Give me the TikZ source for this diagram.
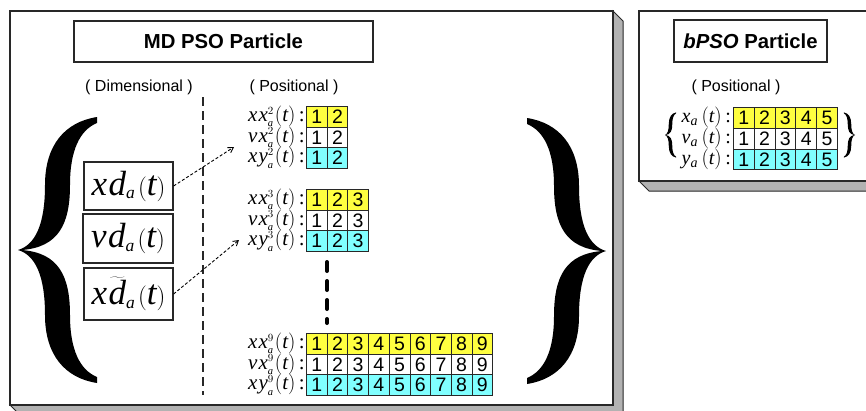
\documentclass[tikz,border=0pt]{standalone}
\usepackage{fontspec}
\setmainfont{Liberation Serif}
\setsansfont{Liberation Sans}
\usetikzlibrary{arrows.meta}
\definecolor{cyel}{RGB}{255,255,64}
\definecolor{ccya}{RGB}{128,255,255}
\definecolor{cgray}{RGB}{178,178,178}
\definecolor{cline}{RGB}{40,40,40}
\newcommand{\bracefill}{\fill (79,-133) .. controls (47,-128) and (27,-105) .. (27,-65) .. controls (27,-25) and (17,-5) .. (0,0) .. controls (17,5) and (27,25) .. (27,65) .. controls (27,105) and (47,128) .. (79,133) -- (79,127) .. controls (62,120) and (52,100) .. (52,65) .. controls (52,25) and (40,3) .. (4,0) .. controls (40,-3) and (52,-25) .. (52,-65) .. controls (52,-100) and (62,-120) .. (79,-127) -- cycle;}
\newcommand{\celltable}[5]{% name, x, y, n, w
  \foreach \r/\cc in {1/cyel,2/white,3/ccya}{
    \foreach \c in {1,...,#4}{
      \node[cellbox,fill=\cc,minimum width=#5pt,minimum height=#5pt] (#1-\r-\c) at ({#2+(\c-1)*#5},{#3+(\r-1)*#5}) {\c};
    }}}
% row label: letters, superscript
\newcommand{\mdlab}[2]{$\mathit{#1}^{\scriptscriptstyle #2}_{\scriptscriptstyle\mathit{a}}\mkern1mu(\mathit{t})\mkern3mu$:}
\newcommand{\blab}[1]{$\mathit{#1}_{\mathit{a}}\mkern3mu(\mathit{t})\mkern3mu$:}
\newcommand{\dimlab}[2]{$\mathit{#1}\mkern1mu\mathit{#2}_{\scriptscriptstyle\mathit{a}}\mkern2mu(\mathit{t})$}
\tikzset{
  cellbox/.style={draw=cline,line width=0.8pt,inner sep=0pt,anchor=north west,font=\sffamily\fontsize{19.5}{19.5}\selectfont},
  lab/.style={anchor=east,inner sep=0pt,font=\fontsize{21}{21}\selectfont},
  blabel/.style={anchor=east,inner sep=0pt,font=\fontsize{20}{20}\selectfont},
  titlebox/.style={draw=cline,line width=1.2pt,fill=white,inner sep=0pt,font=\sffamily\bfseries\fontsize{20.3}{21}\selectfont},
  dimbox/.style={draw=cline,line width=1.2pt,fill=white,inner sep=0pt,font=\fontsize{35}{35}\selectfont},
  heading/.style={inner sep=0pt,font=\sffamily\fontsize{16}{16}\selectfont},
  panel/.style={draw=cline,line width=1.2pt,fill=white},
  shade/.style={draw=cline,line width=1pt,fill=cgray},
  linkarrow/.style={line width=0.9pt,dash pattern=on 3pt off 2pt,-{Straight Barb[length=5pt,width=6pt]}},
}
\begin{document}
\begin{tikzpicture}[x=1pt,y=-1pt]
\useasboundingbox (0,0) rectangle (866,410);
\fill[white] (0,0) rectangle (866,410);
% main panel
\draw[shade] (613,11) -- (623,21) -- (623,415) -- (20,415) -- (10,405) -- (613,405) -- cycle;
\draw[panel] (10,11) rectangle (613,405);
% bPSO panel
\draw[shade] (639,181) -- (649,191) -- (880,191) -- (880,181) -- cycle;
\draw[panel] (639,11) rectangle (880,181);
% titles
\node[titlebox,minimum width=299pt,minimum height=41pt] (mdtitle) at (223.5,41.5) {MD PSO Particle};
\node[titlebox,minimum width=153pt,minimum height=42pt] (btitle) at (750.5,41) {\textit{bPSO} Particle};
\node[heading] (dimh) at (139,87) {( Dimensional )};
\node[heading] (posh) at (294,87) {( Positional )};
\node[heading] (bposh) at (736,87) {( Positional )};
% separator
\draw[line width=1.3pt,dash pattern=on 9pt off 5pt,draw=cline] (203,97) coordinate (sepa) -- (203,395) coordinate (sepb);
% braces
\begin{scope}[shift={(18,250)}] \bracefill \end{scope}
\begin{scope}[shift={(606,251)},xscale=-1] \bracefill \end{scope}
\begin{scope}[shift={(665,135)},xscale=0.14,yscale=0.17] \bracefill \end{scope}
\begin{scope}[shift={(855,135)},xscale=-0.14,yscale=0.17] \bracefill \end{scope}
% dimensional boxes
\node[dimbox,minimum width=89pt,minimum height=48pt] (xd) at (128.5,186) {\dimlab{x}{d}};
\node[dimbox,minimum width=90pt,minimum height=49pt] (vd) at (128,238.5) {\dimlab{v}{d}};
\node[dimbox,minimum width=89pt,minimum height=52pt] (xdt) at (128.5,294) {\dimlab{x}{\widetilde{d}}};
% tables
\celltable{ta}{306}{106}{2}{20.7}
\celltable{tb}{306}{189}{3}{20.7}
\celltable{tc}{306}{333}{9}{20.7}
\celltable{td}{733}{107}{5}{20.8}
% labels
\foreach \nm/\yy/\sup in {a/116.5/2,b/199.5/3,c/343.5/9}{
  \node[lab] (lx\nm) at (305,\yy) {\mdlab{x\mkern1mu x}{\sup}};
  \node[lab] (lv\nm) at (305,\yy+20.7) {\mdlab{v\mkern1mu x}{\sup}};
  \node[lab] (ly\nm) at (305,\yy+41.4) {\mdlab{x\mkern1mu y}{\sup}};
}
\node[blabel] (bx) at (731,117.4) {\blab{x}};
\node[blabel] (bv) at (731,138.2) {\blab{v}};
\node[blabel] (by) at (731,159) {\blab{y}};
% vertical dots
\draw[line width=4pt,line cap=round,dash pattern=on 9pt off 10pt] (327,262) coordinate (dta) -- (327,323) coordinate (dtb);
% arrows
\coordinate (tipa) at (234,147);
\coordinate (tipb) at (239,240);
\draw[linkarrow] (xd.east) -- (tipa);
\draw[linkarrow] (xdt.east) -- (tipb);
\end{tikzpicture}
\end{document}
